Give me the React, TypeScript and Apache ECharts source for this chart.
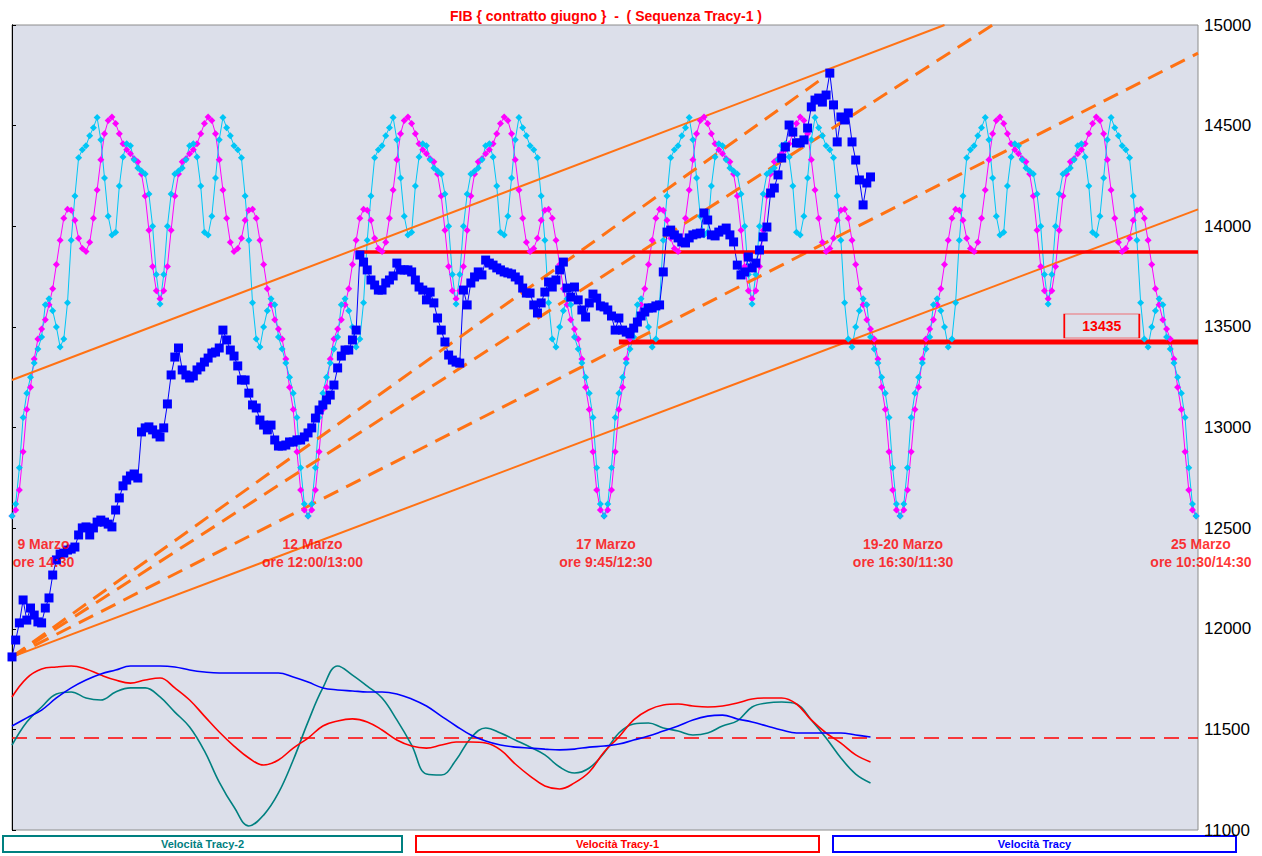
import React, { useEffect, useRef } from "react";
import * as echarts from "echarts";

const TITLE = "FIB { contratto giugno }  -  ( Sequenza Tracy-1 )";

// right axis
const Y_MIN = 11000;
const Y_MAX = 15000;
const Y_STEP = 500;
const X_MAX = 320.5; // time index range (hidden axis)

// "Sequenza Tracy-1" projection (magenta) – 4 cycles, read point by point
const magentaProjection = [
  12560,12590,12690,12880,13090,13200,13340,13440,13490,13535,13610,13690,13810,13930,14040,14085,14080,14030,13940,13890,13875,13920,14040,14180,14330,14460,14525,14543,14510,14460,14410,14380,14360,14335,14320,14260,14150,13980,13800,13680,13640,13680,13800,13980,14150,14260,14320,14335,14360,14380,14410,14460,14510,14543,14525,14460,14330,14180,14040,13920,13875,13890,13940,14030,14080,14085,14040,13930,13810,13690,13610,13535,13490,13440,13340,13200,13090,12880,12690,12590,12560,
  12590,12690,12880,13090,13200,13340,13440,13490,13535,13610,13690,13810,13930,14040,14085,14080,14030,13940,13890,13875,13920,14040,14180,14330,14460,14525,14543,14510,14460,14410,14380,14360,14335,14320,14260,14150,13980,13800,13680,13640,13680,13800,13980,14150,14260,14320,14335,14360,14380,14410,14460,14510,14543,14525,14460,14330,14180,14040,13920,13875,13890,13940,14030,14080,14085,14040,13930,13810,13690,13610,13535,13490,13440,13340,13200,13090,12880,12690,12590,12560,
  12590,12690,12880,13090,13200,13340,13440,13490,13535,13610,13690,13810,13930,14040,14085,14080,14030,13940,13890,13875,13920,14040,14180,14330,14460,14525,14543,14510,14460,14410,14380,14360,14335,14320,14260,14150,13980,13800,13680,13640,13680,13800,13980,14150,14260,14320,14335,14360,14380,14410,14460,14510,14543,14525,14460,14330,14180,14040,13920,13875,13890,13940,14030,14080,14085,14040,13930,13810,13690,13610,13535,13490,13440,13340,13200,13090,12880,12690,12590,12560,
  12590,12690,12880,13090,13200,13340,13440,13490,13535,13610,13690,13810,13930,14040,14085,14080,14030,13940,13890,13875,13920,14040,14180,14330,14460,14525,14543,14510,14460,14410,14380,14360,14335,14320,14260,14150,13980,13800,13680,13640,13680,13800,13980,14150,14260,14320,14335,14360,14380,14410,14460,14510,14543,14525,14460,14330,14180,14040,13920,13875,13890,13940,14030,14080,14085,14040,13930,13810,13690,13610,13535,13490,13440,13340,13200,13090,12880,12690,12590,12560,
];

// second projection (cyan)
const cyanProjection = [
  12560,12620,12800,13050,13170,13250,13320,13390,13450,13610,13640,13580,13500,13400,13440,13620,13930,14150,14340,14380,14400,14450,14490,14540,14430,14240,14050,13957,13970,14200,14344,14410,14400,14330,14290,14275,14260,14160,14000,13760,13614,13760,14000,14160,14260,14275,14290,14330,14400,14410,14344,14200,13970,13957,14050,14240,14430,14540,14490,14450,14400,14380,14340,14150,13930,13620,13440,13400,13500,13580,13640,13610,13450,13390,13320,13250,13170,13050,12800,12620,12560,
  12620,12800,13050,13170,13250,13320,13390,13450,13610,13640,13580,13500,13400,13440,13620,13930,14150,14340,14380,14400,14450,14490,14540,14430,14240,14050,13957,13970,14200,14344,14410,14400,14330,14290,14275,14260,14160,14000,13760,13614,13760,14000,14160,14260,14275,14290,14330,14400,14410,14344,14200,13970,13957,14050,14240,14430,14540,14490,14450,14400,14380,14340,14150,13930,13620,13440,13400,13500,13580,13640,13610,13450,13390,13320,13250,13170,13050,12800,12620,12560,
  12620,12800,13050,13170,13250,13320,13390,13450,13610,13640,13580,13500,13400,13440,13620,13930,14150,14340,14380,14400,14450,14490,14540,14430,14240,14050,13957,13970,14200,14344,14410,14400,14330,14290,14275,14260,14160,14000,13760,13614,13760,14000,14160,14260,14275,14290,14330,14400,14410,14344,14200,13970,13957,14050,14240,14430,14540,14490,14450,14400,14380,14340,14150,13930,13620,13440,13400,13500,13580,13640,13610,13450,13390,13320,13250,13170,13050,12800,12620,12560,
  12620,12800,13050,13170,13250,13320,13390,13450,13610,13640,13580,13500,13400,13440,13620,13930,14150,14340,14380,14400,14450,14490,14540,14430,14240,14050,13957,13970,14200,14344,14410,14400,14330,14290,14275,14260,14160,14000,13760,13614,13760,14000,14160,14260,14275,14290,14330,14400,14410,14344,14200,13970,13957,14050,14240,14430,14540,14490,14450,14400,14380,14340,14150,13930,13620,13440,13400,13500,13580,13640,13610,13450,13390,13320,13250,13170,13050,12800,12620,12560,
];

// FIB price (blue squares)
const fibPrice = [
  11860,11944,12029,12143,12043,12103,12068,12034,12029,12103,
  12153,12267,12342,12371,12376,12391,12396,12406,12466,12501,
  12506,12466,12501,12530,12540,12530,12520,12506,12590,12650,
  12710,12739,12759,12769,12749,12978,12998,13003,12988,12968,
  12953,12998,13117,13261,13350,13395,13286,13261,13246,13256,
  13286,13301,13325,13345,13370,13375,13395,13484,13435,13385,
  13355,13306,13236,13236,13171,13112,13097,13037,13012,12988,
  13012,12938,12908,12908,12913,12928,12928,12938,12938,12953,
  12973,12998,13047,13087,13112,13137,13161,13211,13296,13355,
  13385,13385,13435,13484,13857,13822,13783,13733,13708,13683,
  13683,13718,13733,13753,13817,13783,13783,13783,13773,13733,
  13698,13683,13634,13673,13619,13544,13484,13425,13360,13335,
  13325,13320,13683,13609,13718,13748,13773,13758,13832,13817,
  13807,13793,13783,13773,13768,13763,13748,13733,13693,13668,
  13668,13609,13569,13619,13673,13723,13698,13733,13783,13822,
  13693,13648,13698,13634,13584,13549,13619,13663,13643,13604,
  13599,13584,13554,13484,13544,13484,13474,13465,13494,13524,
  13554,13574,13594,13594,13604,13609,13773,13971,13981,13957,
  13942,13922,13917,13942,13957,13962,13966,14066,14031,13957,
  13952,13971,13981,13991,13957,13922,13807,13758,13773,13847,
  13793,13817,13882,13947,13996,14165,14190,14255,14339,14394,
  14503,14468,14414,14414,14429,14488,14593,14627,14637,14617,
  14652,14761,14603,14419,14543,14528,14563,14419,14329,14230,
  14106,14215,14245,
];

// oscillators, one value every 4 time steps
const OSC_STEP = 4;
const velTracy2 = [
  11422,11537,11611,11676,11686,11656,11646,11686,11706,11706,
  11661,11586,11512,11393,11238,11114,11020,11074,11184,11348,
  11537,11706,11815,11770,11715,11656,11547,11422,11278,11273,
  11348,11457,11507,11482,11447,11412,11373,11313,11283,11308,
  11383,11482,11527,11532,11507,11492,11472,11482,11517,11542,
  11611,11631,11636,11626,11547,11457,11358,11278,11234,
];
const velTracy1 = [
  11661,11755,11800,11810,11815,11800,11770,11745,11730,11745,
  11755,11706,11646,11566,11487,11417,11358,11323,11348,11407,
  11457,11517,11542,11552,11537,11497,11447,11417,11407,11422,
  11437,11437,11432,11398,11328,11268,11219,11204,11234,11288,
  11388,11462,11547,11596,11621,11626,11616,11611,11616,11631,
  11651,11656,11656,11626,11547,11482,11432,11373,11338,
];
const velTracy = [
  11517,11557,11596,11656,11706,11745,11775,11795,11815,11815,
  11815,11810,11795,11785,11780,11780,11780,11780,11780,11760,
  11735,11706,11696,11691,11686,11686,11676,11651,11616,11566,
  11517,11472,11442,11422,11412,11407,11402,11398,11402,11412,
  11417,11427,11447,11467,11492,11517,11547,11566,11571,11552,
  11537,11517,11497,11482,11482,11482,11482,11472,11462,
];
const velZeroLevel = 11457;

// fan / trend lines [time index, value]
const fanOrigin = [0, 11860];
const dashedFanEnds = [
  [221, 14761],
  [265, 15000],
  [320.5, 14860],
];
const solidFanEnd = [320.5, 14084];
const upperChannel = [
  [0, 13236],
  [252, 15000],
];

// horizontal levels
const resistanceLevel = 13872;
const resistanceStart = 93;
const supportLevel = 13425;
const supportStart = 164;
const supportLabel = "13435";
const supportLabelAt = [294.5, 13504];

// date annotations
const dateLabels = ["9 Marzo", "12 Marzo", "17 Marzo", "19-20 Marzo", "25 Marzo"];
const timeLabels = ["ore 14:30", "ore 12:00/13:00", "ore 9:45/12:30", "ore 16:30/11:30", "ore 10:30/14:30"];
const dateLabelIdx = [8.5, 81.2, 160.5, 240.8, 321.3];
const dateLabelLevel = 12376;

// legend boxes
const legendNames = ["Velocità Tracy-2", "Velocità Tracy-1", "Velocità Tracy"];
const legendColors = ["#008080", "#ff0000", "#0000ff"];

const FONT = "Arial, 'Liberation Sans', sans-serif";
const ORANGE = "#ff7214";

function indexed(values: number[], step = 1) {
  return values.map((v, i) => [i * step, v]);
}

function buildOption() {
  const series: any[] = [];

  series.push({
    type: "line",
    name: "Sequenza Tracy-1",
    data: indexed(magentaProjection),
    symbol: "diamond",
    symbolSize: 7,
    showAllSymbol: true,
    itemStyle: { color: "#ff00ff" },
    lineStyle: { color: "#ff00ff", width: 1 },
    silent: true,
  });
  series.push({
    type: "line",
    name: "Sequenza Tracy-2",
    data: indexed(cyanProjection),
    symbol: "diamond",
    symbolSize: 7,
    showAllSymbol: true,
    itemStyle: { color: "#00c6f6" },
    lineStyle: { color: "#00c6f6", width: 1 },
    silent: true,
  });

  series.push({
    type: "line",
    name: "zero",
    data: [
      [0, velZeroLevel],
      [X_MAX, velZeroLevel],
    ],
    symbol: "none",
    lineStyle: { color: "#ff0000", width: 1.5, type: [15, 9] },
    silent: true,
  });

  const oscs = [velTracy2, velTracy1, velTracy];
  oscs.forEach((vals, i) => {
    series.push({
      type: "line",
      name: legendNames[i],
      data: indexed(vals, OSC_STEP),
      smooth: 0.4,
      symbol: "none",
      lineStyle: { color: legendColors[i], width: 1.6 },
      silent: true,
    });
  });

  series.push({
    type: "line",
    name: "FIB",
    data: indexed(fibPrice),
    symbol: "rect",
    symbolSize: 9,
    showAllSymbol: true,
    itemStyle: { color: "#0000ff" },
    lineStyle: { color: "#0000ff", width: 1 },
    silent: true,
  });

  dashedFanEnds.forEach((end) => {
    series.push({
      type: "line",
      data: [fanOrigin, end],
      symbol: "none",
      lineStyle: { color: ORANGE, width: 3, type: [16, 9] },
      silent: true,
    });
  });
  series.push({
    type: "line",
    data: [fanOrigin, solidFanEnd],
    symbol: "none",
    lineStyle: { color: ORANGE, width: 2 },
    silent: true,
  });
  series.push({
    type: "line",
    data: upperChannel,
    symbol: "none",
    lineStyle: { color: ORANGE, width: 2 },
    silent: true,
  });

  series.push({
    type: "line",
    data: [
      [resistanceStart, resistanceLevel],
      [X_MAX, resistanceLevel],
    ],
    symbol: "none",
    lineStyle: { color: "#ff0000", width: 3.5 },
    silent: true,
  });
  series.push({
    type: "line",
    data: [
      [supportStart, supportLevel],
      [X_MAX, supportLevel],
    ],
    symbol: "none",
    lineStyle: { color: "#ff0000", width: 5 },
    silent: true,
    markPoint: {
      silent: true,
      symbol: "rect",
      symbolSize: [75, 24],
      itemStyle: { color: "rgba(0,0,0,0)", borderColor: "#ff0000", borderWidth: 1 },
      label: {
        show: true,
        position: "inside",
        formatter: supportLabel,
        color: "#ff0000",
        fontWeight: "bold",
        fontSize: 14,
        fontFamily: FONT,
      },
      data: [{ coord: supportLabelAt }],
    },
  });

  series.push({
    type: "scatter",
    data: dateLabelIdx.map((x, i) => ({
      value: [x, dateLabelLevel],
      label: { formatter: dateLabels[i] + "\n" + timeLabels[i] },
    })),
    symbolSize: 1,
    clip: false,
    itemStyle: { color: "rgba(0,0,0,0)" },
    label: {
      show: true,
      position: "inside",
      color: "#ff0000",
      fontWeight: "bold",
      fontSize: 14,
      lineHeight: 18,
      align: "center",
      fontFamily: FONT,
    },
    silent: true,
    z: 10,
  });

  const boxX = [3, 416, 833];
  const boxW = [399, 403, 403];
  const graphic: any[] = legendNames.map((name, i) => ({
    type: "group",
    children: [
      {
        type: "rect",
        shape: { x: boxX[i], y: 836, width: boxW[i], height: 16 },
        style: { fill: "#ffffff", stroke: legendColors[i], lineWidth: 2 },
      },
      {
        type: "text",
        x: boxX[i] + boxW[i] / 2,
        y: 844,
        style: {
          text: name,
          fill: legendColors[i],
          font: "bold 11px " + FONT,
          align: "center",
          verticalAlign: "middle",
        },
      },
    ],
  }));

  return {
    animation: false,
    backgroundColor: "#ffffff",
    title: {
      text: TITLE,
      left: 601,
      top: 4,
      textAlign: "center",
      textStyle: { color: "#ff0000", fontSize: 14, fontWeight: "bold", fontFamily: FONT },
    },
    grid: {
      left: 12,
      top: 25,
      right: 64,
      bottom: 26,
      show: true,
      backgroundColor: "#dcdfea",
      borderColor: "#8c8c8c",
      borderWidth: 1,
    },
    xAxis: { type: "value", min: 0, max: X_MAX, show: false },
    yAxis: [
      {
        type: "value",
        position: "right",
        min: Y_MIN,
        max: Y_MAX,
        interval: Y_STEP,
        axisLine: { show: true, lineStyle: { color: "#000", width: 1 } },
        axisTick: { show: true, length: 4, lineStyle: { color: "#000" } },
        axisLabel: {
          color: "#000",
          fontSize: 17,
          fontFamily: FONT,
          margin: 6,
          formatter: (v: number) => String(v),
        },
        splitLine: { show: false },
      },
      {
        type: "value",
        position: "left",
        min: Y_MIN,
        max: Y_MAX,
        interval: Y_STEP,
        axisLine: { show: true, lineStyle: { color: "#000", width: 1 } },
        axisTick: { show: false },
        axisLabel: { show: false },
        splitLine: { show: false },
      },
    ],
    series,
    graphic,
  };
}

export default function App() {
  const ref = useRef<HTMLDivElement>(null);
  useEffect(() => {
    if (!ref.current) return;
    const chart = echarts.init(ref.current, null, { renderer: "svg" });
    chart.setOption(buildOption() as any);
    return () => chart.dispose();
  }, []);
  return (
    <div
      ref={ref}
      style={{ position: "fixed", left: 0, top: 0, width: 1262, height: 856, background: "#fff" }}
    />
  );
}
